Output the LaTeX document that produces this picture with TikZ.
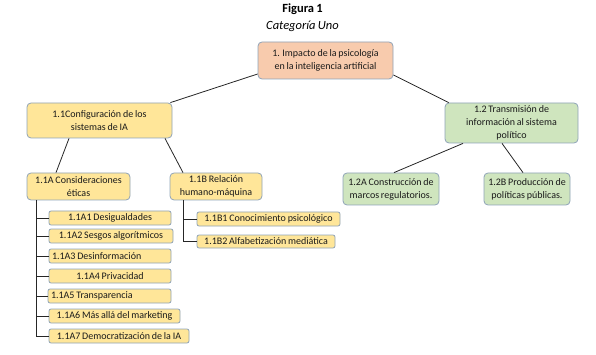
\documentclass[tikz,border=0pt]{standalone}
\usepackage{fontspec}
\setmainfont[WordSpace=0.8]{Carlito}
\usetikzlibrary{positioning}
\definecolor{bordc}{HTML}{8FA3B8}
\definecolor{yelc}{HTML}{FFE699}
\definecolor{grnc}{HTML}{CFE5BE}
\definecolor{peachc}{HTML}{F8CBAD}
\definecolor{linec}{HTML}{262626}
\definecolor{txtc}{HTML}{1A1A1A}
\tikzset{
  box/.style={draw=bordc, line width=0.8pt, rounded corners=4pt, inner sep=0pt, align=center, text=txtc, font=\fontsize{10}{13}\selectfont},
  ybox/.style={box, fill=yelc},
  gbox/.style={box, fill=grnc},
  pbox/.style={box, fill=peachc},
  leaf/.style={draw=bordc, line width=0.8pt, rounded corners=2pt, fill=yelc, inner ysep=0pt, inner xsep=3pt, text=txtc, font=\fontsize{10}{11}\selectfont},
  conn/.style={draw=linec, line width=0.8pt},
}
\begin{document}
\begin{tikzpicture}[x=1pt,y=-1pt]
\useasboundingbox (0,0) rectangle (596,355);
\node[font=\fontsize{12.5}{14}\selectfont\bfseries] (title) at (302.5,9) {Figura 1};
\node[font=\fontsize{12.5}{14}\selectfont\itshape] (subtitle) at (302.5,26) {Categoría Uno};

\node[pbox, minimum width=135, minimum height=37] (root) at (325.5,60.5) {1. Impacto de la psicología\\en la inteligencia artificial};
\node[ybox, minimum width=145, minimum height=35] (c11) at (99.5,120.5) {1.1Configuración de los\\sistemas de IA};
\node[gbox, minimum width=133, minimum height=40] (c12) at (511.5,123) {1.2 Transmisión de\\información al sistema\\político};
\node[ybox, minimum width=103, minimum height=27] (c11A) at (78.5,186.5) {1.1A Consideraciones\\éticas};
\node[ybox, minimum width=92, minimum height=27] (c11B) at (216,186.5) {1.1B Relación\\humano-máquina};
\node[gbox, minimum width=96, minimum height=32] (c12A) at (391,189) {1.2A Construcción de\\marcos regulatorios.};
\node[gbox, minimum width=86, minimum height=32] (c12B) at (527,189) {1.2B Producción de\\políticas públicas.};

\node[leaf, text width=116, align=flush center, minimum height=14] (A1) at (110,218) {1.1A1 Desigualdades};
\node[leaf, text width=118, align=flush center, minimum height=14] (A2) at (111,236) {1.1A2 Sesgos algorítmicos};
\node[leaf, text width=116, align=flush left, minimum height=14] (A3) at (110,256) {1.1A3 Desinformación};
\node[leaf, text width=116, align=flush center, minimum height=14] (A4) at (110,276) {1.1A4 Privacidad};
\node[leaf, text width=117, align=flush left, minimum height=14] (A5) at (109.5,296) {1.1A5 Transparencia};
\node[leaf, text width=125, align=flush center, minimum height=14] (A6) at (114.5,316) {1.1A6 Más allá del marketing};
\node[leaf, text width=134, align=flush center, minimum height=14] (A7) at (119,336) {1.1A7 Democratización de la IA};

\node[leaf, text width=137, align=flush center, minimum height=14] (B1) at (268.5,219) {1.1B1 Conocimiento psicológico};
\node[leaf, text width=132, align=flush center, minimum height=13] (B2) at (266,241.5) {1.1B2 Alfabetización mediática};

\draw[conn] ([yshift=-13.5]root.west) -- ([xshift=-2]c11.north east);
\draw[conn] ([yshift=-14.5]root.east) -- ([xshift=4]c12.north west);
\draw[conn] ([xshift=-30.5]c11.south) -- ([xshift=-22.5]c11A.north);
\draw[conn] ([xshift=65.5]c11.south) -- ([xshift=-33]c11B.north);
\draw[conn] ([xshift=-48.5]c12.south) -- ([xshift=3]c12A.north);
\draw[conn] ([xshift=-9.5]c12.south) -- ([xshift=-4]c12B.north);

\foreach \n in {A1,A2,A3,A4,A5,A6,A7}{
  \draw[conn] ([xshift=-42.5]c11A.south) |- (\n.west);
}
\foreach \n in {B1,B2}{
  \draw[conn] ([xshift=-33]c11B.south) |- (\n.west);
}
\end{tikzpicture}
\end{document}
